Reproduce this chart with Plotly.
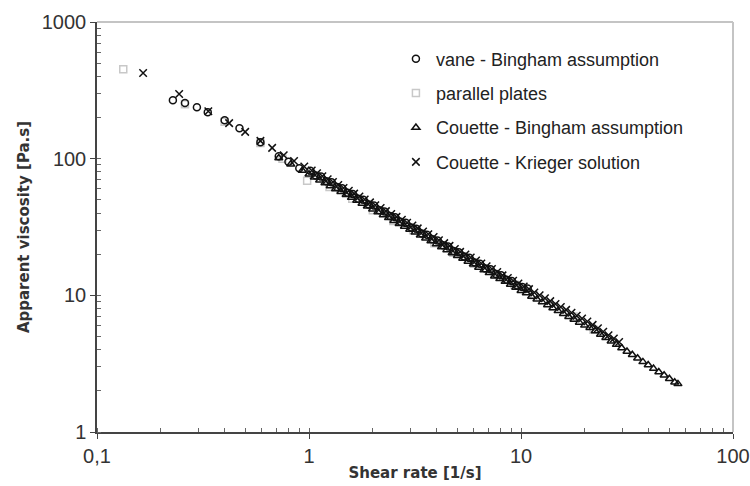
import plotly.graph_objects as go

# ---- data ----
vane_x = [0.228, 0.26, 0.296, 0.333, 0.40, 0.47, 0.59, 0.72, 0.80, 0.90,
          1.015, 1.075, 1.139, 1.207, 1.278, 1.354, 1.434, 1.518, 1.609, 1.704,
          1.805, 1.912, 2.025, 2.145, 2.273, 2.407, 2.550, 2.701, 2.860, 3.030,
          3.209, 3.400, 3.601, 3.814, 4.041, 4.280, 4.534, 4.803, 5.087, 5.389,
          5.707, 6.046, 6.405, 6.783, 7.185, 7.611, 8.062, 8.540, 9.047, 9.583,
          10.15, 10.75]
vane_y = [268, 255, 238, 219, 191, 167, 132, 104, 95, 85,
          81.6, 75.4, 74.0, 68.4, 67.1, 62.0, 60.8, 56.2, 55.2, 51.0,
          50.0, 46.2, 45.4, 42.0, 41.1, 38.0, 37.3, 34.5, 33.9, 31.3,
          30.7, 28.3, 27.8, 25.7, 25.2, 23.3, 22.8, 21.1, 20.7, 19.2,
          18.8, 17.4, 17.0, 15.7, 15.5, 14.3, 14.0, 13.0, 12.75, 11.8,
          11.5, 11.2]

plates_x = [0.133, 0.26, 0.40, 0.59, 0.75, 0.98, 1.25, 1.6, 2.0, 2.5, 3.1, 3.9, 4.8,
            6.0, 7.5, 9.3, 11.5, 14.3, 17.7, 22.0]
plates_y = [452, 250, 186, 130, 100, 69, 62, 51, 42, 35, 30, 24, 20.5,
            17, 14.3, 12, 10, 8.3, 7, 5.6]

couette_x = [0.72, 0.82, 0.93,
             1.000, 1.059, 1.122, 1.189, 1.259, 1.334, 1.413, 1.496, 1.585, 1.679,
             1.778, 1.884, 1.995, 2.113, 2.239, 2.371, 2.512, 2.661, 2.818, 2.985,
             3.162, 3.350, 3.548, 3.758, 3.981, 4.217, 4.467, 4.732, 5.012, 5.309,
             5.623, 5.957, 6.310, 6.683, 7.079, 7.499, 7.943, 8.414, 8.913, 9.441,
             10.00, 10.59, 11.22, 11.89, 12.59, 13.34, 14.13, 14.96, 15.85, 16.79,
             17.78, 18.84, 19.95, 21.13, 22.39, 23.71, 25.12, 26.61, 28.18, 29.85,
             31.62, 33.50, 35.48, 37.58, 39.81, 42.17, 44.67, 47.32, 50.12, 53.09,
             55.0]
couette_y = [101, 91, 82,
             76.8, 73.2, 69.6, 66.3, 63.2, 60.1, 57.2, 54.5, 51.9, 49.4,
             47.0, 44.8, 42.7, 40.7, 38.7, 36.9, 35.1, 33.4, 31.9, 30.3,
             28.9, 27.5, 26.2, 25.0, 23.7, 22.6, 21.5, 20.4, 19.5, 18.6,
             17.7, 16.9, 16.0, 15.3, 14.6, 13.8, 13.2, 12.6, 12.0, 11.4,
             10.8, 10.4, 9.8, 9.37, 8.92, 8.50, 8.08, 7.70, 7.33, 6.98,
             6.65, 6.34, 6.03, 5.80, 5.48, 5.17, 4.89, 4.62, 4.36, 4.12,
             3.88, 3.67, 3.46, 3.26, 3.09, 2.91, 2.75, 2.60, 2.45, 2.31,
             2.25]

krieger_x = [0.165, 0.244, 0.335, 0.42, 0.50, 0.59, 0.67, 0.76, 0.85, 0.95,
             1.030, 1.091, 1.156, 1.225, 1.297, 1.374, 1.455, 1.541, 1.633, 1.729,
             1.831, 1.940, 2.055, 2.177, 2.306, 2.442, 2.587, 2.741, 2.903, 3.075,
             3.257, 3.451, 3.655, 3.871, 4.101, 4.344, 4.601, 4.874, 5.163, 5.468,
             5.792, 6.136, 6.499, 6.884, 7.292, 7.724, 8.181, 8.666, 9.180, 9.724,
             10.30, 10.91, 11.56, 12.24, 12.97, 13.74, 14.55, 15.41, 16.33, 17.30,
             18.32, 19.41, 20.56, 21.77, 23.06, 24.43, 25.87, 27.41, 29.03]
krieger_y = [423, 297, 222, 182, 157, 135, 120, 106, 96, 87.5,
             82.0, 78.1, 74.3, 70.8, 67.4, 64.2, 61.1, 58.2, 55.5, 52.8,
             50.2, 47.9, 45.6, 43.5, 41.3, 39.4, 37.5, 35.7, 34.0, 32.4,
             30.9, 29.3, 28.0, 26.7, 25.3, 24.1, 23.0, 21.8, 20.8, 19.9,
             18.9, 18.0, 17.1, 16.3, 15.6, 14.8, 14.0, 13.4, 12.8, 12.2,
             11.6, 11.1, 10.5, 10.0, 9.52, 9.07, 8.63, 8.22, 7.83, 7.45,
             7.10, 6.77, 6.44, 6.08, 5.74, 5.41, 5.11, 4.83, 4.56]

names = ["vane - Bingham assumption", "parallel plates",
         "Couette - Bingham assumption", "Couette - Krieger solution"]

fig = go.Figure()
fig.add_trace(go.Scatter(x=plates_x, y=plates_y, mode="markers", name=names[1],
                         legendrank=2, legendgroup="b",
                         marker=dict(symbol="square-open", size=7, color="#c8c8c8",
                                     line=dict(width=1.5, color="#c8c8c8"))))
fig.add_trace(go.Scatter(x=vane_x, y=vane_y, mode="markers", name=names[0],
                         legendrank=1, legendgroup="a",
                         marker=dict(symbol="circle-open", size=7, color="#111",
                                     line=dict(width=1.5, color="#111"))))
fig.add_trace(go.Scatter(x=couette_x, y=couette_y, mode="markers", name=names[2],
                         legendrank=3, legendgroup="c",
                         marker=dict(symbol="triangle-up-open", size=7, color="#111",
                                     line=dict(width=1.5, color="#111"))))
fig.add_trace(go.Scatter(x=krieger_x, y=krieger_y, mode="markers", name=names[3],
                         legendrank=4, legendgroup="d",
                         marker=dict(symbol="x-thin-open", size=7.5, color="#111",
                                     line=dict(width=1.5, color="#111"))))

axis_common = dict(
    type="log", showgrid=False, zeroline=False, showline=True, automargin=False,
    linecolor="#444", linewidth=1.5, ticks="outside", ticklen=5, tickcolor="#444",
    tickfont=dict(family="Liberation Sans", size=20, color="#333"),
    minor=dict(ticks="inside", ticklen=4, tickcolor="#666", showgrid=False),
    dtick=1,
)
fig.update_xaxes(range=[-1, 2],
                 title=dict(text="Shear rate [1/s]", standoff=2,
                            font=dict(family="DejaVu Sans", size=15, color="#333",
                                      weight="bold")),
                 **axis_common)
fig.update_yaxes(range=[0, 3],
                 title=dict(text="Apparent viscosity [Pa.s]", standoff=9,
                            font=dict(family="DejaVu Sans", size=15, color="#333",
                                      weight="bold")),
                 **axis_common)

fig.add_shape(type="line", xref="paper", yref="paper", x0=0, x1=1, y0=1, y1=1,
              line=dict(color="#c4c4c4", width=2))
fig.add_shape(type="line", xref="paper", yref="paper", x0=1, x1=1, y0=0, y1=1,
              line=dict(color="#c4c4c4", width=2))

fig.update_layout(
    width=750, height=486,
    margin=dict(l=97, r=17, t=22, b=54),
    paper_bgcolor="white", plot_bgcolor="white",
    separators=",.",
    legend=dict(x=0.47, y=0.955, xanchor="left", yanchor="top",
                bgcolor="rgba(0,0,0,0)", tracegroupgap=8,
                font=dict(family="Liberation Sans", size=18, color="#222")),
    showlegend=True,
)

fig.write_html("out.html", config={"displayModeBar": False},
               post_script="document.body.style.margin='0';document.body.style.padding='0';")
